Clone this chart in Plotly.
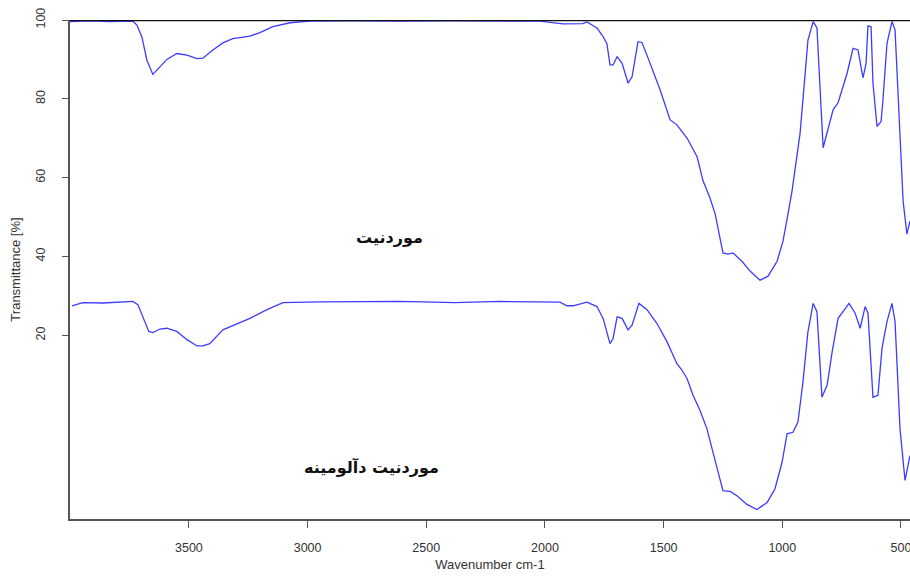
import plotly.graph_objects as go

# Mordenite (top spectrum)
wn_top = [4001, 3917, 3833, 3736, 3719, 3698, 3677, 3652, 3622, 3593, 3551, 3508, 3466, 3441,
          3399, 3357, 3315, 3243, 3201, 3146, 3074, 2990, 2822, 2611, 2400, 2189, 2021, 1924,
          1840, 1823, 1781, 1755, 1739, 1726, 1713, 1696, 1675, 1650, 1633, 1608, 1591, 1557,
          1515, 1473, 1444, 1401, 1359, 1334, 1305, 1283, 1262, 1250, 1229, 1208, 1170, 1136,
          1094, 1060, 1022, 997, 976, 959, 925, 892, 870, 854, 828, 811, 786, 765, 727, 702,
          681, 660, 647, 639, 626, 618, 601, 584, 576, 559, 538, 525, 504, 491, 475, 462]
t_top = [99.6, 99.8, 99.6, 99.7, 98.7, 95.7, 89.8, 86.2, 88.1, 90.0, 91.5, 91.1, 90.2, 90.3,
         92.4, 94.2, 95.3, 95.9, 96.8, 98.3, 99.3, 99.7, 99.8, 99.7, 99.8, 99.8, 99.7, 99.0,
         99.1, 99.5, 98.0, 95.8, 94.0, 88.6, 88.6, 90.7, 89.0, 84.0, 85.6, 94.5, 94.3, 89.0,
         82.3, 74.7, 73.4, 70.0, 65.3, 59.2, 54.9, 50.8, 44.7, 40.9, 40.6, 40.9, 38.8, 36.3,
         34.0, 35.0, 38.8, 43.9, 50.8, 56.6, 71.3, 94.9, 99.6, 98.0, 67.6, 71.4, 77.2, 79.0, 86.5, 92.8,
         92.4, 85.3, 89.0, 98.5, 98.3, 84.0, 73.0, 74.2, 79.7, 94.0, 99.6, 97.5, 71.3, 54.0, 45.7, 49.0]

# Dealuminated mordenite (bottom spectrum)
wn_bot = [3993, 3947, 3862, 3791, 3736, 3715, 3694, 3669, 3652, 3622, 3593, 3551, 3508, 3466,
          3441, 3412, 3357, 3298, 3243, 3171, 3104, 2948, 2611, 2379, 2189, 1937, 1907, 1882,
          1823, 1781, 1755, 1726, 1713, 1696, 1675, 1650, 1633, 1604, 1570, 1528, 1486, 1444,
          1423, 1401, 1376, 1347, 1317, 1292, 1271, 1250, 1220, 1191, 1149, 1107, 1064, 1031,
          1001, 980, 955, 934, 913, 892, 870, 854, 833, 811, 790, 765, 744, 719, 693, 672,
          651, 639, 618, 597, 580, 559, 538, 525, 504, 483, 462]
t_bot = [27.5, 28.3, 28.2, 28.5, 28.6, 27.8, 24.8, 21.0, 20.7, 21.6, 21.8, 21.0, 18.9, 17.3,
         17.3, 17.9, 21.4, 23.0, 24.3, 26.5, 28.3, 28.5, 28.6, 28.3, 28.6, 28.4, 27.5, 27.5,
         28.4, 27.3, 24.3, 17.9, 19.2, 24.7, 24.3, 21.4, 22.6, 28.1, 26.5, 23.0, 18.4, 12.8,
         11.2, 9.0, 4.8, 1.0, -3.8, -9.7, -14.8, -19.4, -19.6, -20.7, -22.9, -24.2, -22.4, -19.0,
         -12.2, -5.0, -4.6, -2.0, 8.2, 20.9, 28.1, 26.0, 4.3, 7.4, 15.8, 24.3, 26.0, 28.1, 25.6, 21.8,
         27.3, 25.6, 4.3, 4.8, 16.7, 23.5, 28.1, 23.5, -3.8, -16.8, -10.5]

x_ticks = [3500, 3000, 2500, 2000, 1500, 1000, 500]
y_ticks = [20, 40, 60, 80, 100]

label_top = "موردنیت"
label_bot = "موردنیت دآلومینه"

line_color = "#3c3cff"

fig = go.Figure()
fig.add_trace(go.Scatter(x=wn_top, y=t_top, mode="lines",
                         line=dict(color=line_color, width=1.3), showlegend=False))
fig.add_trace(go.Scatter(x=wn_bot, y=t_bot, mode="lines",
                         line=dict(color=line_color, width=1.3), showlegend=False))

fig.add_annotation(x=2653, y=44.9, text="<b>" + label_top + "</b>", showarrow=False,
                   font=dict(family="DejaVu Sans", size=16, color="#111111"))
fig.add_annotation(x=2729, y=-13.5, text="<b>" + label_bot + "</b>", showarrow=False,
                   font=dict(family="DejaVu Sans", size=16, color="#111111"))

fig.add_shape(type="line", xref="paper", yref="y", x0=0, x1=1, y0=100, y1=100,
              line=dict(color="#111111", width=2.5))

fig.update_layout(
    width=910, height=576,
    margin=dict(l=70, r=0, t=20, b=57),
    plot_bgcolor="white", paper_bgcolor="white",
    font=dict(family="Liberation Sans", size=12.5, color="#333333"),
    xaxis=dict(range=[4001, 462], tickvals=x_ticks, ticks="outside", ticklen=7,
               tickcolor="#555555", showgrid=False, zeroline=False, automargin=False,
               ticklabeloverflow="allow", ticklabelstandoff=9,
               showline=True, linecolor="#555555", linewidth=2,
               title=dict(text="Wavenumber cm-1", standoff=6,
                          font=dict(size=13, color="#333333"))),
    yaxis=dict(range=[-26.6, 100], tickvals=y_ticks, ticks="outside", ticklen=6,
               tickcolor="#555555", tickangle=-90, showgrid=False, zeroline=False,
               automargin=False, ticklabeloverflow="allow", ticklabelstandoff=12,
               showline=True, linecolor="#555555", linewidth=2,
               title=dict(text="Transmittance [%]", standoff=10,
                          font=dict(size=13, color="#333333"))),
)

fig.write_html(
    "out.html",
    config={"displayModeBar": False},
    post_script="document.body.style.margin='0';"
                "document.documentElement.style.overflow='hidden';",
)
